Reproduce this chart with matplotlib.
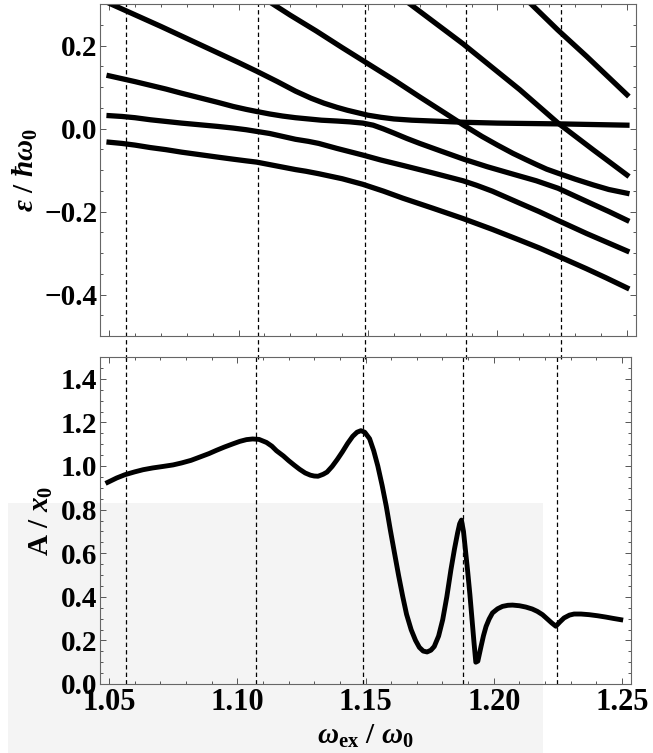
import numpy as np
import matplotlib
matplotlib.use("Agg")
import matplotlib.pyplot as plt
from matplotlib.patches import Rectangle
from matplotlib.ticker import MultipleLocator, FuncFormatter

# quasi-energy levels vs drive frequency (upper panel)
lvl1_x = [1.050, 1.055, 1.060, 1.066, 1.072, 1.078, 1.085, 1.092, 1.098, 1.103, 1.107, 1.112, 1.117,
          1.122, 1.126, 1.131, 1.140, 1.148, 1.156, 1.1635, 1.175, 1.1867, 1.198, 1.2086, 1.2162,
          1.2232, 1.2344, 1.242, 1.250]
lvl1_y = [-0.033, -0.036, -0.040, -0.046, -0.051, -0.057, -0.063, -0.069, -0.074, -0.078, -0.081,
          -0.087, -0.093, -0.099, -0.103, -0.109, -0.121, -0.1345, -0.151, -0.168, -0.192, -0.217,
          -0.243, -0.269, -0.288, -0.307, -0.338, -0.360, -0.384]

lvl2_x = [1.050, 1.055, 1.060, 1.066, 1.072, 1.078, 1.085, 1.092, 1.098, 1.103, 1.107, 1.112, 1.117,
          1.122, 1.127, 1.131, 1.138, 1.143, 1.148, 1.155, 1.1635, 1.175, 1.1867, 1.192, 1.198,
          1.2086, 1.216, 1.2232, 1.2344, 1.250]
lvl2_y = [0.031, 0.029, 0.026, 0.021, 0.017, 0.013, 0.009, 0.005, 0.001, -0.003, -0.007, -0.012,
          -0.019, -0.026, -0.031, -0.036, -0.048, -0.056, -0.064, -0.076, -0.089, -0.107, -0.126,
          -0.137, -0.151, -0.180, -0.200, -0.221, -0.253, -0.295]

lvl3_x = [1.050, 1.055, 1.060, 1.066, 1.072, 1.078, 1.085, 1.092, 1.098, 1.103, 1.107, 1.112, 1.117,
          1.122, 1.127, 1.132, 1.138, 1.143, 1.148, 1.152, 1.156, 1.160, 1.165, 1.170, 1.178, 1.187,
          1.196, 1.206, 1.215, 1.2234, 1.230, 1.237, 1.243, 1.250]
lvl3_y = [0.127, 0.120, 0.113, 0.104, 0.095, 0.085, 0.074, 0.063, 0.053, 0.046, 0.041, 0.035, 0.030,
          0.026, 0.023, 0.020, 0.018, 0.016, 0.013, 0.008, -0.001, -0.011, -0.024, -0.036, -0.054,
          -0.074, -0.092, -0.110, -0.126, -0.144, -0.163, -0.183, -0.200, -0.221]

lvl4_x = [1.050, 1.060, 1.070, 1.080, 1.090, 1.100, 1.107, 1.115, 1.122, 1.128, 1.133, 1.138, 1.142,
          1.146, 1.150, 1.155, 1.160, 1.167, 1.175, 1.187, 1.200, 1.225, 1.250]
lvl4_y = [0.302, 0.274, 0.246, 0.217, 0.188, 0.159, 0.138, 0.113, 0.090, 0.073, 0.061, 0.051, 0.044,
          0.038, 0.032, 0.027, 0.023, 0.020, 0.018, 0.015, 0.013, 0.011, 0.008]

lvl5_x = [1.110, 1.120, 1.130, 1.140, 1.150, 1.160, 1.170, 1.180, 1.1867, 1.194, 1.200, 1.206, 1.211,
          1.2151, 1.219, 1.2235, 1.230, 1.237, 1.243, 1.250]
lvl5_y = [0.313, 0.273, 0.235, 0.195, 0.156, 0.117, 0.076, 0.036, 0.009, -0.019, -0.040, -0.060,
          -0.075, -0.087, -0.098, -0.108, -0.122, -0.136, -0.147, -0.156]

lvl6_x = [1.163, 1.1867, 1.2086, 1.2234, 1.237, 1.250]
lvl6_y = [0.315, 0.204, 0.0936, 0.013, -0.0515, -0.112]

lvl7_x = [1.2105, 1.2232, 1.2344, 1.250]
lvl7_y = [0.315, 0.238, 0.174, 0.0815]

levels = [(lvl1_x, lvl1_y), (lvl2_x, lvl2_y), (lvl3_x, lvl3_y), (lvl4_x, lvl4_y),
          (lvl5_x, lvl5_y), (lvl6_x, lvl6_y), (lvl7_x, lvl7_y)]

# response amplitude (lower panel)
amp_x = [1.0495, 1.0530, 1.0562, 1.0600, 1.0633, 1.0670, 1.0711, 1.0750, 1.0783, 1.0820, 1.0854,
         1.0890, 1.0919, 1.0950, 1.0984, 1.1010, 1.1036, 1.1060, 1.1085, 1.1114, 1.1135, 1.1153,
         1.1180, 1.1200, 1.1222, 1.1243, 1.1265, 1.1285, 1.1300, 1.1315, 1.1335, 1.1350, 1.1370,
         1.1390, 1.1410, 1.1430, 1.1450, 1.1467, 1.1482, 1.1497, 1.1516, 1.1532, 1.1548, 1.1565,
         1.1581, 1.1597, 1.1613, 1.1629, 1.1645, 1.1660, 1.1678, 1.1695, 1.1710, 1.1725, 1.1740,
         1.1755, 1.1768, 1.1785, 1.1801, 1.1817, 1.1833, 1.1847, 1.1859, 1.1867, 1.1874, 1.1882,
         1.1890, 1.1898, 1.1907, 1.1915, 1.1923, 1.1930, 1.1938, 1.1950, 1.1960, 1.1970, 1.1982,
         1.1995, 1.2015, 1.2034, 1.2055, 1.2073, 1.2100, 1.2125, 1.2150, 1.2170, 1.2190, 1.2209,
         1.2226, 1.2242, 1.2258, 1.2274, 1.2295, 1.2313, 1.2340, 1.2372, 1.2405, 1.2437, 1.2465,
         1.2495]
amp_y = [0.925, 0.945, 0.960, 0.973, 0.983, 0.991, 0.998, 1.005, 1.014, 1.026, 1.041,
         1.057, 1.072, 1.087, 1.102, 1.113, 1.121, 1.124, 1.122, 1.108, 1.091, 1.070,
         1.046, 1.025, 1.004, 0.985, 0.968, 0.958, 0.954, 0.953, 0.962, 0.972, 0.998,
         1.030, 1.065, 1.103, 1.136, 1.155, 1.162, 1.155, 1.125, 1.070, 1.000, 0.910,
         0.815, 0.705, 0.601, 0.498, 0.402, 0.320, 0.249, 0.200, 0.168, 0.151, 0.147,
         0.155, 0.172, 0.220, 0.295, 0.400, 0.524, 0.620, 0.693, 0.735, 0.752, 0.700,
         0.610, 0.520, 0.410, 0.300, 0.190, 0.100, 0.105, 0.170, 0.222, 0.264, 0.298,
         0.326, 0.345, 0.356, 0.361, 0.362, 0.359, 0.353, 0.344, 0.333, 0.318, 0.298,
         0.280, 0.265, 0.285, 0.303, 0.316, 0.321, 0.321, 0.318, 0.313, 0.307, 0.301,
         0.295]

# resonance positions
resonances = [1.0565, 1.1075, 1.149, 1.188, 1.2245]

plt.rcParams["font.family"] = ["Liberation Serif", "DejaVu Serif"]
plt.rcParams["font.weight"] = "bold"
plt.rcParams["mathtext.fontset"] = "custom"
plt.rcParams["mathtext.rm"] = "Liberation Serif:bold"
plt.rcParams["mathtext.bf"] = "Liberation Serif:bold"
plt.rcParams["mathtext.it"] = "Liberation Serif:italic:bold"
plt.rcParams["mathtext.fallback"] = "stix"

W, H = 653, 753
fig = plt.figure(figsize=(W / 100, H / 100), dpi=100)
fig.patch.set_facecolor("white")

# light background block in the lower left
fig.patches.append(Rectangle((8 / W, 0), (543 - 8) / W, (753 - 503) / H,
                             transform=fig.transFigure, facecolor="#f4f4f4",
                             edgecolor="none", zorder=-10))

ax1 = fig.add_axes([100 / W, 1 - 336 / H, 536 / W, 332 / H])
ax2 = fig.add_axes([100 / W, 1 - 684 / H, 531 / W, 327 / H])

xlim = (1.0465, 1.2535)

for x, y in levels:
    ax1.plot(x, y, color="black", lw=3.8, solid_joinstyle="round")
ax2.plot(amp_x, amp_y, color="black", lw=3.5, solid_joinstyle="round")

for xr in resonances:
    ax1.axvline(xr, ymin=-0.07, ymax=1, color="black", lw=0.9,
                linestyle=(0, (3.5, 2.5)), clip_on=False, zorder=1)
    ax2.axvline(xr, color="black", lw=0.9, linestyle=(0, (3.5, 2.5)), zorder=1)

ax1.set_xlim(*xlim)
ax1.set_ylim(-0.5, 0.3)
ax2.set_xlim(*xlim)
ax2.set_ylim(0.0, 1.5)

fmt1 = FuncFormatter(lambda v, p: f"{v:.1f}".replace("-", "\u2212"))
fmt2 = FuncFormatter(lambda v, p: f"{v:.2f}")

for ax in (ax1, ax2):
    ax.patch.set_alpha(0)
    ax.xaxis.set_major_locator(MultipleLocator(0.05))
    ax.xaxis.set_minor_locator(MultipleLocator(0.01))
    ax.yaxis.set_major_locator(MultipleLocator(0.2))
    ax.yaxis.set_minor_locator(MultipleLocator(0.05))
    ax.yaxis.set_major_formatter(fmt1)
    ax.tick_params(which="both", direction="in", top=True, right=True,
                   color="#555555", width=0.7)
    ax.tick_params(which="major", length=4.2, pad=2)
    ax.tick_params(which="minor", length=2.5)
    ax.tick_params(axis="y", labelsize=21)
    for s in ax.spines.values():
        s.set_color("#666666")
        s.set_linewidth(0.8)

ax1.tick_params(labelbottom=False)
ax2.xaxis.set_major_formatter(fmt2)
ax2.tick_params(axis="x", pad=3, labelsize=22)

ax1.set_ylabel(r"$\epsilon\mathbf{\ /\ }\hbar\omega_\mathbf{0}$", fontsize=21)
ax1.yaxis.set_label_coords(-0.112, 0.5)
ax2.set_ylabel(r"$\mathbf{A\ /\ }x_\mathbf{0}$", fontsize=21)
ax2.yaxis.set_label_coords(-0.085, 0.5)
ax2.set_xlabel(r"$\omega_\mathbf{ex}\mathbf{\ /\ }\omega_\mathbf{0}$", fontsize=21)
ax2.xaxis.set_label_coords(0.5, -0.12)

fig.savefig("out.png", dpi=100)
